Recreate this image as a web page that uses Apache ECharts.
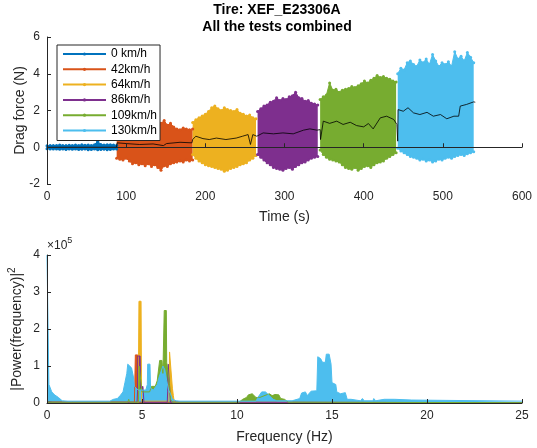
<!DOCTYPE html>
<html>
<head>
<meta charset="utf-8">
<script src="https://cdn.jsdelivr.net/npm/echarts@6/dist/echarts.min.js"></script>
<style>
html, body { margin: 0; padding: 0; background: #fff; }
#chart { width: 537px; height: 448px; }
</style>
</head>
<body>
<div id="chart"></div>
<script>
// speeds of the six tests
var speeds = ['0 km/h', '42km/h', '64km/h', '86km/h', '109km/h', '130km/h'];
var colors = ['#0072BD', '#D95319', '#EDB120', '#7E2F8E', '#77AC30', '#4DBEEE'];

// drag force band: start time of each test, then upper / lower
// extremes every 4 s
var segStart = [0, 88, 184, 266, 345, 443];
var hi0 = [0.08,0.1,0.09,0.1,0.12,0.1,0.09,0.11,0.1,0.12,0.1,0.13,0.11,0.12,0.1,0.14,0.33,0.15,0.12,0.14,0.13,0.12,0.1];
var lo0 = [-0.08,-0.1,-0.09,-0.1,-0.11,-0.1,-0.12,-0.1,-0.11,-0.1,-0.12,-0.11,-0.1,-0.13,-0.12,-0.1,-0.14,-0.12,-0.11,-0.13,-0.12,-0.1,-0.1];
var hi42 = [1.0,1.05,1.1,1.2,1.3,1.15,1.0,1.05,1.2,1.1,1.25,1.2,1.3,1.35,1.3,1.45,1.2,1.3,1.1,1.0,0.95,1.05,1.0,0.95,1.0];
var lo42 = [-0.6,-0.65,-0.7,-0.6,-0.75,-0.9,-0.85,-0.95,-0.9,-1.0,-0.9,-1.05,-0.95,-1.1,-1.25,-1.0,-1.05,-0.9,-0.85,-0.8,-0.75,-0.8,-0.7,-0.75,-0.7];
var hi64 = [1.35,1.5,1.6,1.7,1.8,1.95,2.15,2.25,2.1,2.0,2.15,2.05,2.0,1.95,2.05,1.85,1.8,1.7,1.75,1.6,1.55];
var lo64 = [-0.4,-0.6,-0.75,-0.85,-0.95,-1.0,-1.05,-1.1,-1.15,-1.2,-1.3,-1.25,-1.15,-1.1,-1.05,-0.95,-0.9,-0.85,-0.7,-0.6,-0.45];
var hi86 = [1.95,2.1,2.25,2.3,2.45,2.5,2.7,2.55,2.65,2.6,2.75,2.8,3.0,2.7,2.65,2.5,2.55,2.4,2.35,2.3];
var lo86 = [-0.4,-0.55,-0.7,-0.85,-0.95,-1.1,-1.15,-1.2,-1.25,-1.15,-1.1,-1.2,-1.05,-0.95,-0.85,-0.8,-0.7,-0.6,-0.55,-0.5];
var hi109 = [2.6,2.75,2.85,3.5,3.1,3.15,3.0,3.1,3.15,3.2,3.3,3.25,3.35,3.45,3.6,3.5,3.65,3.75,3.9,3.8,3.85,3.75,3.7,3.6,3.55];
var lo109 = [-0.15,-0.4,-0.55,-0.65,-0.7,-0.75,-0.8,-0.95,-1.1,-1.15,-1.2,-1.1,-1.25,-1.15,-1.05,-1.0,-1.1,-0.95,-0.85,-0.8,-0.75,-0.6,-0.5,-0.4,-0.3];
var hi130 = [4.0,4.3,4.2,4.6,4.7,4.5,4.4,4.75,4.6,4.8,4.5,5.05,4.7,4.4,4.6,4.5,4.65,4.4,5.2,4.8,4.95,4.7,5.15,4.9,4.6];
var lo130 = [-0.05,-0.2,-0.3,-0.4,-0.5,-0.55,-0.6,-0.7,-0.65,-0.75,-0.7,-0.8,-0.75,-0.65,-0.7,-0.6,-0.55,-0.6,-0.5,-0.45,-0.4,-0.45,-0.35,-0.3,-0.25];
var hiAll = [hi0, hi42, hi64, hi86, hi109, hi130];
var loAll = [lo0, lo42, lo64, lo86, lo109, lo130];

// moving mean (black line)
var meanT = [0,88,88.5,100,117,134,147,151,168,183,184,188,197,205,214,226,239,247,254,257,260,265,
  267,273,286,298,311,324,332,341,345,345.5,349,357,366,374,383,391,400,406,412,421,429,438,442,
  443,443.5,450,456,463,471,480,488,497,505,514,520,522,530,539,541];
var meanV = [0,0,0.24,0.2,0.15,0.18,0.09,0.2,0.27,0.24,0.42,0.6,0.47,0.42,0.5,0.42,0.5,0.6,0.69,0.15,0.69,0.6,
  0.69,0.78,0.73,0.78,0.73,0.93,1.0,0.93,0.96,0.42,1.42,1.3,1.42,1.24,1.36,1.18,1.11,1.29,1.0,1.6,1.69,1.51,1.24,
  0.33,2.05,1.96,2.15,1.87,1.78,1.9,1.69,1.78,1.55,1.69,1.69,2.24,2.33,2.47,2.45];

// power spectra, [frequency Hz, |P|^2 in units of 1e5]
var psd0 = [[0,0.05],[0.3,0.02],[25,0.01]];
var psd42 = [[0,0.02],[4.6,0.02],[4.65,1.3],[4.77,1.3],[4.8,0.02],[25,0.01]];
var psd64 = [[0,0.02],[4.8,0.02],[4.84,2.75],[4.95,2.75],[4.98,0.05],[6.42,0.05],[6.45,1.38],[6.55,1.38],
  [6.6,0.4],[6.65,0.2],[6.7,0.02],[25,0.01]];
var psd86 = [[0,0.02],[4.74,0.02],[4.76,0.3],[4.78,1.27],[4.9,1.27],[4.93,0.4],[5.05,0.45],[5.1,0.02],[6.33,0.02],
  [6.35,0.3],[6.38,1.05],[6.45,1.05],[6.5,0.02],[25,0.01]];
var psd109 = [[0,0.02],[4.25,0.02],[4.3,0.1],[4.35,0.02],[4.8,0.02],[4.82,0.1],[4.85,1.0],[4.95,1.0],[5.0,0.3],[5.4,0.3],
  [5.5,0.45],[5.7,0.45],[5.8,0.6],[5.93,1.15],[6.05,1.15],[6.1,0.8],[6.17,2.5],[6.28,2.5],[6.3,1.1],
  [6.4,1.1],[6.45,0.5],[6.5,0.1],[6.6,0.02],[10.1,0.02],[10.3,0.1],[10.5,0.15],[10.6,0.22],[10.8,0.25],
  [11.0,0.15],[11.2,0.15],[11.7,0.25],[11.85,0.2],[12.0,0.23],[12.2,0.22],[12.3,0.12],[12.5,0.1],
  [12.7,0.02],[25,0.01]];
var psd130 = [[0,4.0],[0.07,4.0],[0.1,0.5],[0.2,0.45],[0.25,0.3],[0.4,0.22],[0.5,0.2],[0.6,0.15],[0.8,0.06],
  [1.1,0.05],[1.2,0.08],[1.35,0.05],[3.3,0.05],[3.5,0.1],[3.7,0.12],[3.85,0.2],[4.0,0.3],[4.1,0.55],
  [4.2,0.8],[4.25,1.05],[4.35,1.05],[4.45,0.95],[4.55,0.7],[4.6,0.45],[4.7,0.4],[4.8,0.35],[5.0,0.35],
  [5.2,0.35],[5.28,0.5],[5.3,1.05],[5.42,1.05],[5.45,0.4],[5.6,0.35],[5.7,0.4],[5.8,0.5],[5.9,0.7],
  [6.0,0.85],[6.1,1.0],[6.2,0.9],[6.3,0.6],[6.4,0.35],[6.5,0.25],[6.6,0.1],[6.8,0.06],[7.0,0.05],
  [11.0,0.05],[11.1,0.15],[11.3,0.3],[11.4,0.35],[11.5,0.3],[11.7,0.2],[11.9,0.1],[12.1,0.06],[12.9,0.06],
  [13.0,0.1],[13.3,0.12],[13.4,0.27],[13.6,0.3],[13.7,0.2],[13.9,0.32],[14.2,0.33],[14.25,1.25],
  [14.4,1.2],[14.5,1.1],[14.65,1.1],[14.7,1.32],[14.85,1.32],[14.95,1.05],[15.0,0.55],[15.2,0.5],
  [15.25,0.3],[15.45,0.25],[15.55,0.3],[15.7,0.28],[15.8,0.1],[16.0,0.1],[16.1,0.06],[16.5,0.06],
  [16.6,0.12],[16.7,0.06],[17.15,0.06],[17.2,0.12],[17.3,0.06],[17.75,0.1],[17.85,0.06],[18.3,0.1],
  [18.4,0.06],[19.2,0.08],[19.3,0.05],[25,0.05]];
var psdAll = [psd0, psd42, psd64, psd86, psd109, psd130];

var font = 'Liberation Sans, Arial, Helvetica, sans-serif';
var axisColor = '#262626';

function makeAxis(extra) {
	var a = {
		type: 'value',
		z: 10,
		axisLine: { show: true, lineStyle: { color: axisColor, width: 1 } },
		axisTick: { show: true, inside: true, length: 4, lineStyle: { color: axisColor } },
		axisLabel: { color: axisColor, fontSize: 12, fontFamily: font, margin: 7 },
		splitLine: { show: false },
		nameLocation: 'middle',
		nameMoveOverlap: false,
		nameTextStyle: { color: axisColor, fontSize: 14, fontFamily: font }
	};
	for (var k in extra) a[k] = extra[k];
	return a;
}

function segPoints(k, arr) {
	var pts = [];
	for (var i = 0; i < arr.length; i++) pts.push([segStart[k] + 4 * i, arr[i]]);
	return pts;
}

var series = [];
// filled band between the lower and upper edge of every test
series.push({
	name: 'band',
	type: 'custom',
	xAxisIndex: 0, yAxisIndex: 0,
	data: segStart.map(function (t, k) { return [t, 0, k]; }),
	renderItem: function (params, api) {
		var k = params.dataIndex;
		var up = segPoints(k, hiAll[k]);
		var down = segPoints(k, loAll[k]).reverse();
		var pts = up.concat(down).map(function (p) { return api.coord(p); });
		return { type: 'polygon', shape: { points: pts }, style: { fill: colors[k] } };
	},
	animation: false, silent: true, z: 1
});
for (var k = 0; k < 6; k++) {
	series.push({
		name: speeds[k],
		type: 'line',
		xAxisIndex: 0, yAxisIndex: 0,
		data: segPoints(k, hiAll[k]),
		color: colors[k],
		lineStyle: { width: 1 },
		symbol: 'circle', symbolSize: 3, showAllSymbol: true,
		animation: false, z: 2
	});
	series.push({
		name: 'low ' + speeds[k],
		type: 'line',
		xAxisIndex: 0, yAxisIndex: 0,
		data: segPoints(k, loAll[k]),
		color: colors[k],
		lineStyle: { width: 1 },
		symbol: 'circle', symbolSize: 3, showAllSymbol: true,
		animation: false, z: 2
	});
}
series.push({
	name: 'mean',
	type: 'line',
	xAxisIndex: 0, yAxisIndex: 0,
	data: meanT.map(function (t, i) { return [t, meanV[i]]; }),
	color: '#000',
	lineStyle: { width: 0.8 },
	symbol: 'none', animation: false, z: 5
});
for (var k = 0; k < 6; k++) {
	series.push({
		name: 'psd ' + speeds[k],
		type: 'line',
		xAxisIndex: 1, yAxisIndex: 1,
		data: psdAll[k],
		color: colors[k],
		lineStyle: { width: 1 },
		areaStyle: { color: colors[k], opacity: 1 },
		symbol: 'none', animation: false, z: 2
	});
}

var myChart = echarts.init(document.getElementById('chart'), null, { renderer: 'canvas' });
var option = {
	backgroundColor: '#fff',
	animation: false,
	grid: [
		{ left: 47, right: 15, top: 37, height: 147, outerBoundsMode: 'none' },
		{ left: 47, right: 15, top: 255, height: 148, outerBoundsMode: 'none' }
	],
	xAxis: [
		makeAxis({ gridIndex: 0, min: 0, max: 600, interval: 100, name: 'Time (s)', nameGap: 26 }),
		makeAxis({ gridIndex: 1, min: 0, max: 25, interval: 5, name: 'Frequency (Hz)', nameGap: 27 })
	],
	yAxis: [
		makeAxis({ gridIndex: 0, min: -2, max: 6, interval: 2, name: 'Drag force (N)', nameGap: 20 }),
		makeAxis({ gridIndex: 1, min: 0, max: 4, interval: 1, name: '{n||Power(frequency)|}{s|2}', nameGap: 20,
			nameTextStyle: { color: axisColor, fontFamily: font, rich: {
				n: { fontSize: 14, lineHeight: 20, verticalAlign: 'middle', color: axisColor, fontFamily: font },
				s: { fontSize: 10, lineHeight: 20, verticalAlign: 'top', color: axisColor, fontFamily: font }
			} } })
	],
	legend: {
		data: speeds,
		orient: 'vertical',
		left: 57, top: 45,
		padding: [2, 3, 3, 5],
		itemGap: 1.3,
		itemWidth: 43, itemHeight: 4,
		backgroundColor: '#fff',
		borderColor: axisColor, borderWidth: 1,
		textStyle: { color: '#000', fontSize: 12, fontFamily: font, lineHeight: 14 },
		selectedMode: false,
		z: 20
	},
	graphic: [
		{ type: 'text', x: 277, y: 10, style: { text: 'Tire: XEF_E23306A', fill: '#000', font: 'bold 14px ' + font, align: 'center', verticalAlign: 'middle' } },
		{ type: 'text', x: 277, y: 27, style: { text: 'All the tests combined', fill: '#000', font: 'bold 14px ' + font, align: 'center', verticalAlign: 'middle' } },
		{ type: 'text', x: 47, y: 236, style: { text: '{a|×10}{b|5}', fill: axisColor,
			rich: { a: { fontSize: 12, lineHeight: 20, verticalAlign: 'middle', fontFamily: font, fill: axisColor },
			        b: { fontSize: 9, lineHeight: 20, verticalAlign: 'top', fontFamily: font, fill: axisColor } } } }
	],
	series: series
};
myChart.setOption(option);
</script>
</body>
</html>
